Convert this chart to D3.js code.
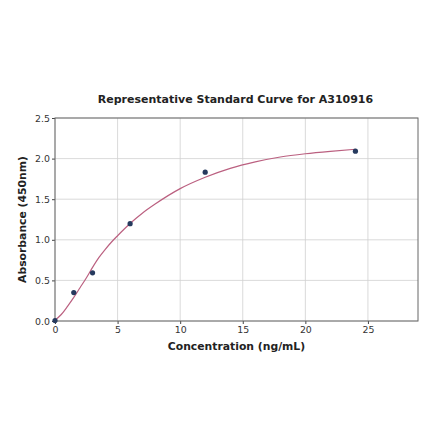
<!DOCTYPE html>
<html>
<head>
<meta charset="utf-8">
<script src="https://cdn.jsdelivr.net/npm/d3@7"></script>
<style>
  body { margin: 0; background: #fff; }
  text { font-family: "DejaVu Sans", sans-serif; fill: #222; }
  .title { font-size: 11px; font-weight: bold; }
  .axis-label { font-size: 10.8px; font-weight: bold; }
  .tick text { font-size: 9.4px; fill: #333; }
</style>
</head>
<body>
<div id="chart"></div>
<script>
// standards (measured points)
const concentration = [0, 1.5, 3, 6, 12, 24];
const absorbance = [0.005, 0.35, 0.593, 1.198, 1.833, 2.092];

// fitted curve
const curveX = [0, 0.5, 1, 1.5, 2, 2.5, 3, 3.5, 4, 4.5, 5, 6, 7, 8, 10, 12, 14, 16, 18, 20, 22, 24];
const curveY = [0.01, 0.08, 0.18, 0.29, 0.41, 0.53, 0.66, 0.78, 0.88, 0.97, 1.05, 1.20, 1.33, 1.44, 1.63, 1.77, 1.88, 1.96, 2.02, 2.06, 2.09, 2.115];

const xTicks = [0, 5, 10, 15, 20, 25];
const yTicks = [0, 0.5, 1.0, 1.5, 2.0, 2.5];

const margin = { top: 118, right: 22, bottom: 120, left: 55 },
      width = 440 - margin.left - margin.right,
      height = 441 - margin.top - margin.bottom;

const svg = d3.select("#chart")
    .append("svg")
    .attr("width", 440)
    .attr("height", 441)
    .append("g")
    .attr("transform", `translate(${margin.left},${margin.top})`);

const x = d3.scaleLinear().domain([0, 29]).range([0, width]);
const y = d3.scaleLinear().domain([0, 2.5]).range([height, 0]);

// grid
svg.append("g")
    .selectAll("line.vg")
    .data(xTicks)
    .enter().append("line")
    .attr("x1", d => x(d)).attr("x2", d => x(d))
    .attr("y1", 0).attr("y2", height)
    .attr("stroke", "#d0d0d0").attr("stroke-width", 0.8);

svg.append("g")
    .selectAll("line.hg")
    .data(yTicks)
    .enter().append("line")
    .attr("x1", 0).attr("x2", width)
    .attr("y1", d => y(d)).attr("y2", d => y(d))
    .attr("stroke", "#d0d0d0").attr("stroke-width", 0.8);

// axes
const xAxis = svg.append("g")
    .attr("transform", `translate(0,${height})`)
    .call(d3.axisBottom(x).tickValues(xTicks).tickSize(3).tickPadding(2).tickFormat(d3.format("d")));

const yAxis = svg.append("g")
    .call(d3.axisLeft(y).tickValues(yTicks).tickSize(3).tickPadding(2).tickFormat(d3.format(".1f")));

[xAxis, yAxis].forEach(a => {
    a.select(".domain").remove();
    a.selectAll(".tick line").attr("stroke", "#444");
});

// frame
svg.append("rect")
    .attr("width", width).attr("height", height)
    .attr("fill", "none").attr("stroke", "#666").attr("stroke-width", 1);

// fitted curve
const curveData = curveX.map((v, i) => ({ x: v, y: curveY[i] }));
svg.append("path")
    .datum(curveData)
    .attr("fill", "none")
    .attr("stroke", "#bb6080")
    .attr("stroke-width", 1.2)
    .attr("d", d3.line().x(d => x(d.x)).y(d => y(d.y)).curve(d3.curveMonotoneX));

// points
const points = concentration.map((v, i) => ({ x: v, y: absorbance[i] }));
svg.selectAll("circle")
    .data(points)
    .enter().append("circle")
    .attr("cx", d => x(d.x))
    .attr("cy", d => y(d.y))
    .attr("r", 2.6)
    .attr("fill", "#263a5e");

// labels
svg.append("text")
    .attr("class", "title")
    .attr("text-anchor", "middle")
    .attr("x", width / 2 - 1)
    .attr("y", -15)
    .text("Representative Standard Curve for A310916");

svg.append("text")
    .attr("class", "axis-label")
    .attr("text-anchor", "middle")
    .attr("x", width / 2)
    .attr("y", height + 29)
    .text("Concentration (ng/mL)");

svg.append("text")
    .attr("class", "axis-label")
    .attr("text-anchor", "middle")
    .attr("transform", "rotate(-90)")
    .attr("x", -height / 2)
    .attr("y", -29)
    .text("Absorbance (450nm)");
</script>
</body>
</html>
